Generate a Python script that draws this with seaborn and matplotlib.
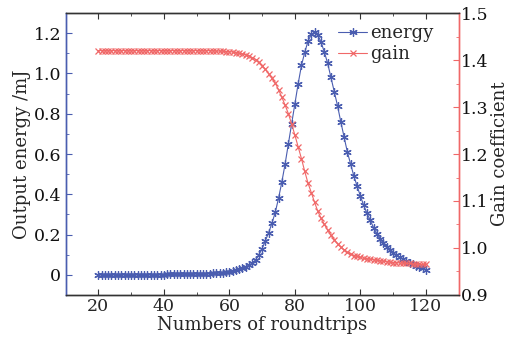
import numpy as np
import pandas as pd
import matplotlib
matplotlib.use('Agg')
import matplotlib.pyplot as plt
import seaborn as sns
from matplotlib.ticker import MultipleLocator
from matplotlib.lines import Line2D

# roundtrip index 20..120
roundtrips = list(range(20, 121))

energy = (
    [0.001] * 21                                   # 20-40
    + [0.002, 0.002, 0.002, 0.002, 0.003, 0.003, 0.003, 0.004, 0.004, 0.005,   # 41-50
       0.005, 0.005, 0.006, 0.006, 0.007, 0.008, 0.009, 0.011, 0.013, 0.016,   # 51-60
       0.019, 0.023, 0.028, 0.034, 0.041, 0.048, 0.058, 0.074, 0.100, 0.130,   # 61-70
       0.170, 0.210, 0.257, 0.310, 0.380, 0.460, 0.550, 0.650, 0.750, 0.850,   # 71-80
       0.950, 1.040, 1.105, 1.160, 1.195, 1.205, 1.190, 1.155, 1.105, 1.050,   # 81-90
       0.980, 0.910, 0.840, 0.760, 0.685, 0.610, 0.550, 0.490, 0.440, 0.390,   # 91-100
       0.345, 0.305, 0.270, 0.235, 0.205, 0.180, 0.160, 0.140, 0.125, 0.110,   # 101-110
       0.098, 0.088, 0.078, 0.069, 0.061, 0.053, 0.046, 0.039, 0.032, 0.026]   # 111-120
)

gain = (
    [1.420] * 35                                   # 20-54
    + [1.420, 1.419, 1.419, 1.419, 1.418, 1.418,   # 55-60
       1.417, 1.416, 1.414, 1.413, 1.411, 1.409, 1.405, 1.401, 1.395, 1.388,   # 61-70
       1.380, 1.371, 1.361, 1.351, 1.337, 1.321, 1.304, 1.286, 1.264, 1.240,   # 71-80
       1.215, 1.190, 1.163, 1.138, 1.118, 1.097, 1.078, 1.063, 1.050, 1.038,   # 81-90
       1.027, 1.018, 1.009, 1.002, 0.996, 0.991, 0.987, 0.984, 0.982, 0.980,   # 91-100
       0.978, 0.977, 0.976, 0.975, 0.974, 0.973, 0.972, 0.971, 0.970, 0.969,   # 101-110
       0.969, 0.968, 0.968, 0.967, 0.967, 0.966, 0.966, 0.965, 0.965, 0.965]   # 111-120
)

df = pd.DataFrame({'roundtrips': roundtrips, 'energy': energy, 'gain': gain})

blue = '#4a5db0'
red = '#f06868'
star = (6, 2, 0)

sns.set_style('ticks')
plt.rcParams['font.family'] = ['DejaVu Serif']
plt.rcParams['xtick.direction'] = 'in'
plt.rcParams['ytick.direction'] = 'in'

fig = plt.figure(figsize=(5.12, 3.43), dpi=100)
ax = fig.add_axes([0.128, 0.140, 0.768, 0.822])
ax2 = ax.twinx()

sns.lineplot(data=df, x='roundtrips', y='energy', ax=ax, color=blue, lw=0.8,
             marker=star, markersize=6, markeredgewidth=0.9,
             markeredgecolor=blue, markerfacecolor=blue)
sns.lineplot(data=df, x='roundtrips', y='gain', ax=ax2, color=red, lw=0.8,
             marker='x', markersize=5, markeredgewidth=0.9,
             markeredgecolor=red)

ax.set_xlim(10, 130)
ax.set_ylim(-0.1, 1.3)
ax2.set_ylim(0.9, 1.5)

ax.xaxis.set_major_locator(MultipleLocator(20))
ax.xaxis.set_minor_locator(MultipleLocator(10))
ax.yaxis.set_minor_locator(MultipleLocator(0.1))
ax2.yaxis.set_major_locator(MultipleLocator(0.1))
ax2.yaxis.set_minor_locator(MultipleLocator(0.05))

ax.set_yticks([0, 0.2, 0.4, 0.6, 0.8, 1.0, 1.2])
ax.set_yticklabels(['0', '0.2', '0.4', '0.6', '0.8', '1.0', '1.2'])

fs = 13
ts = 12.5
ax.tick_params(axis='x', which='both', top=True, labelsize=ts, color='#333333', pad=2)
ax.tick_params(axis='x', which='major', length=4)
ax.tick_params(axis='x', which='minor', length=2.5)
ax.tick_params(axis='y', which='both', colors=blue, labelcolor='#111111', labelsize=ts, pad=3)
ax.tick_params(axis='y', which='major', length=4)
ax.tick_params(axis='y', which='minor', length=2.5)
ax2.tick_params(axis='y', which='both', colors=red, labelcolor='#111111', labelsize=ts, pad=1.5)
ax2.tick_params(axis='y', which='major', length=4)
ax2.tick_params(axis='y', which='minor', length=2.5)

for a in (ax, ax2):
    a.spines['left'].set_color(blue)
    a.spines['right'].set_color(red)
    a.spines['top'].set_color('#333333')
    a.spines['bottom'].set_color('#333333')
    for s in a.spines.values():
        s.set_linewidth(1.0)

ax.set_xlabel('Numbers of roundtrips', fontsize=fs, labelpad=1)
ax.set_ylabel('Output energy /mJ', fontsize=fs, labelpad=2)
ax2.set_ylabel('Gain coefficient', fontsize=fs, labelpad=2)

handles = [
    Line2D([], [], color=blue, lw=0.8, marker=star, markersize=6, markeredgewidth=0.9),
    Line2D([], [], color=red, lw=0.8, marker='x', markersize=5, markeredgewidth=0.9),
]
ax.legend(handles, ['energy', 'gain'], loc='upper right', frameon=False,
          fontsize=fs, handlelength=1.6, handletextpad=0.2, labelspacing=0.15,
          borderaxespad=0.0, bbox_to_anchor=(0.955, 0.985))

fig.savefig('out.png', dpi=100)
